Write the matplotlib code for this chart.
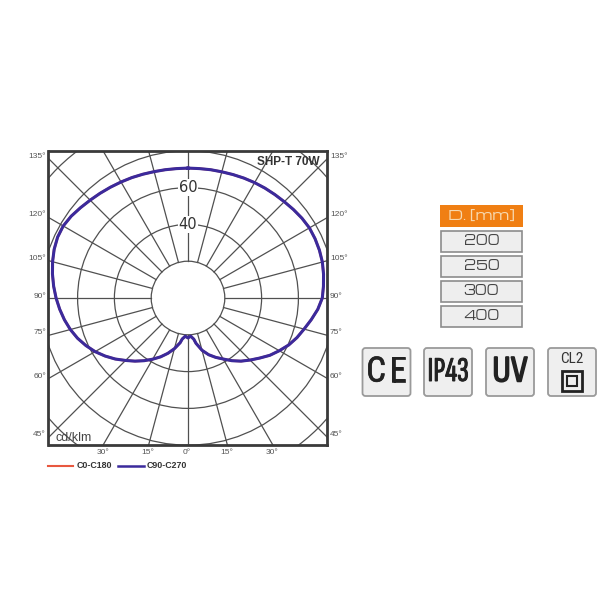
import numpy as np
from matplotlib import pyplot as plt
from matplotlib import patheffects
from matplotlib.patches import Circle, FancyBboxPatch, Rectangle

# photometric curve, angle from nadir (left side negative), cd/klm
left_angles = [-180, -175, -170, -165, -160, -155, -150, -145, -140, -135, -130, -125, -120, -115, -110, -105,
               -100, -95, -90, -85, -80, -75, -70, -65, -60, -55, -50, -45, -40, -35, -30, -25, -20, -15, -10, -8, -4]
left_values = [70.6, 70.6, 70.8, 71.1, 71.6, 72.2, 72.8, 73.5, 74.3, 75.2, 76.3, 77.5, 78.3, 78.2, 77.4, 76.2,
               74.8, 73.3, 71.7, 70, 68.2, 66.2, 63.9, 61.2, 58.3, 55, 51.6, 48, 44.8, 41.6, 38.4, 35.3, 32, 28.5, 24.7, 22.5, 20.8]
right_angles = [0, 4, 8, 10, 15, 20, 25, 30, 35, 40, 45, 50, 55, 60, 65, 70, 75, 80, 85, 90, 95, 100, 105, 110,
                115, 120, 125, 130, 135, 140, 145, 150, 155, 160, 165, 170, 175, 180]
right_values = [21.7, 20.8, 22.6, 25, 29.4, 32.8, 35.6, 38.3, 41.6, 44.8, 47.7, 50.8, 54.3, 57.3, 60.4, 63, 65.3,
                68, 70.8, 73, 73.9, 74.8, 75.6, 76, 76.2, 76.2, 75.6, 74.8, 74, 73.4, 72.9, 72.4, 71.9, 71.4, 71, 70.8, 70.6, 70.6]

ring_values = [20, 40, 60, 80, 100]
ray_angles = np.arange(0, 360, 15)

left_labels = ["135°", "120°", "105°", "90°", "75°", "60°", "45°"]
side_label_y = [157, 215, 258, 296, 333, 376, 435]
bottom_labels = ["30°", "15°", "0°", "15°", "30°"]
bottom_label_x = [103, 148, 187, 227, 272]

sizes_title = "D. [mm]"
sizes = ["200", "250", "300", "400"]
size_tops = [231, 256, 281, 306]

GRID = "#505050"
FRAME = "#3a3a3a"
BLUE = "#3b2a9c"
RED = "#e8583f"

WIDE = ["Michroma", "Encode Sans Expanded", "DejaVu Sans"]
NARROW = ["Roboto Condensed", "Liberation Sans"]
XNARROW = ["Sofia Sans Extra Condensed", "Roboto Condensed", "Liberation Sans"]
MIDNARROW = ["Sofia Sans Condensed", "Roboto Condensed", "Liberation Sans"]


def thick(width):
    return [patheffects.withStroke(linewidth=width, foreground="#222222")]


curve_angles = np.array(left_angles + right_angles)
curve_values = np.array(left_values + right_values)

fig = plt.figure(figsize=(6, 6), dpi=100)

# chart axes, units are cd/klm (1 unit = 1.84 px)
ax = fig.add_axes([48.5 / 600, 155 / 600, 278.5 / 600, 294 / 600])
ax.set_xlim(-139.5 / 1.84, 139 / 1.84)
ax.set_ylim(-147 / 1.84, 147 / 1.84)
ax.set_xticks([])
ax.set_yticks([])
for s in ax.spines.values():
    s.set_linewidth(2)
    s.set_color(FRAME)

for v in ring_values:
    ax.add_patch(Circle((0, 0), v, fill=False, ec=GRID, lw=0.9, zorder=1))
for a in ray_angles:
    t = np.radians(a)
    ax.plot([20 * np.sin(t), 120 * np.sin(t)], [-20 * np.cos(t), -120 * np.cos(t)], color=GRID, lw=0.9, zorder=1)

t = np.radians(curve_angles)
ax.plot(curve_values * np.sin(t), -curve_values * np.cos(t), color=RED, lw=1.8, zorder=3)
ax.plot(curve_values * np.sin(t), -curve_values * np.cos(t), color=BLUE, lw=2.2, zorder=4,
        solid_joinstyle='round')

ax.text(0, 60, "60", ha='center', va='center', fontsize=10.5, color="#333333", zorder=2,
        bbox=dict(fc='white', ec='none', pad=0.5))
ax.text(0, 40, "40", ha='center', va='center', fontsize=10.5, color="#333333", zorder=2,
        bbox=dict(fc='white', ec='none', pad=0.5))

# overlay in pixel units for labels and the side panel
ov = fig.add_axes([0, 0, 1, 1], facecolor='none')
ov.set_xlim(0, 600)
ov.set_ylim(600, 0)
ov.axis('off')

for label, y in zip(left_labels, side_label_y):
    ov.text(46, y, label, ha='right', va='center', fontsize=6, color="#555555", family="Liberation Sans")
    ov.text(330, y, label, ha='left', va='center', fontsize=6, color="#555555", family="Liberation Sans")
for label, x in zip(bottom_labels, bottom_label_x):
    ov.text(x, 452, label, ha='center', va='center', fontsize=6, color="#555555", family="Liberation Sans")

ov.text(288, 162, "SHP-T 70W", ha='center', va='center', fontsize=8.5, fontweight='bold', color="#333333",
        family="Liberation Sans")
ov.text(55, 438, "cd/klm", ha='left', va='center', fontsize=9, color="#444444", family="Liberation Sans")

ov.plot([48, 73], [466, 466], color=RED, lw=1.5)
ov.text(77, 466, "C0-C180", ha='left', va='center', fontsize=6.4, fontweight='bold', color="#333333",
        family="Liberation Sans")
ov.plot([118, 144], [466, 466], color=BLUE, lw=1.8)
ov.text(147, 466, "C90-C270", ha='left', va='center', fontsize=6.4, fontweight='bold', color="#333333",
        family="Liberation Sans")

# size table
ov.add_patch(Rectangle((440, 205), 83, 22, fc="#f07f13", ec='none'))
ov.text(481.5, 216, sizes_title, ha='center', va='center', fontsize=10, color="#f7d9b0", family=WIDE)
for label, top in zip(sizes, size_tops):
    ov.add_patch(Rectangle((441, top), 81, 20.5, fc="#eeeeee", ec="#8c8c8c", lw=1.2))
    ov.text(481.5, top + 10.5, label, ha='center', va='center', fontsize=9, color="#444444", family=WIDE)

# certification badges
for x in [362.5, 424, 486, 548]:
    ov.add_patch(FancyBboxPatch((x + 2, 350), 44, 44, boxstyle="round,pad=2,rounding_size=3",
                                fc="#efefef", ec="#9a9a9a", lw=1.3))

ov.text(386, 372, "C", ha='right', va='center', fontsize=25, color="#222222", family=NARROW,
        path_effects=thick(0.5))
ov.text(389, 372, "E", ha='left', va='center', fontsize=25, color="#222222", family=NARROW,
        path_effects=thick(0.5))
ov.text(448, 372, "IP43", ha='center', va='center', fontsize=25, color="#222222", family=XNARROW,
        path_effects=thick(0.7))
ov.text(510, 372, "UV", ha='center', va='center', fontsize=27, color="#222222", family=MIDNARROW,
        path_effects=thick(1.1))
ov.text(572, 359, "CL2", ha='center', va='center', fontsize=11, color="#333333", family=NARROW)
ov.add_patch(Rectangle((562, 371), 20, 20, fill=False, ec="#222222", lw=2))
ov.add_patch(Rectangle((567, 376), 10, 10, fill=False, ec="#222222", lw=1.5))

fig.savefig("out.png", dpi=100, facecolor='white')
